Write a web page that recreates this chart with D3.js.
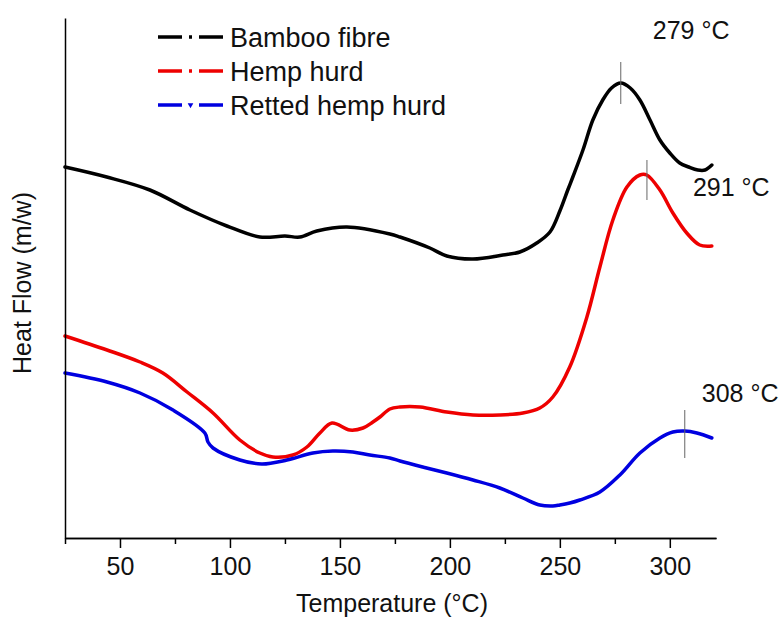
<!DOCTYPE html>
<html>
<head>
<meta charset="utf-8">
<script src="https://cdn.jsdelivr.net/npm/d3@7"></script>
<style>
  body { margin: 0; background: #fff; }
  svg { display: block; font-family: "Liberation Sans", Arial, sans-serif; }
</style>
</head>
<body>
<div id="root"></div>
<script>
// DSC curves, [temperature °C, heat flow (arbitrary units)]
const bambooFibre = [
  [25, 3.71], [44, 3.61], [63.6, 3.48], [81.8, 3.28], [98.6, 3.12], [113.6, 3.01],
  [125, 3.02], [131.8, 3.01], [139.5, 3.07], [153.2, 3.11], [172.7, 3.04], [177.3, 3.01],
  [190.9, 2.9], [198.6, 2.82], [210.5, 2.79], [224.1, 2.83], [231.8, 2.86], [239.5, 2.95],
  [245.5, 3.06], [250, 3.27], [253.6, 3.48], [255.9, 3.61], [260.5, 3.88], [265, 4.18],
  [269.5, 4.38], [273.5, 4.5], [277.7, 4.55], [282, 4.5], [286.4, 4.38], [291, 4.18],
  [295.5, 3.98], [300, 3.85], [304.5, 3.75], [308.6, 3.71], [312.7, 3.68], [316, 3.68],
  [319.1, 3.73]
];
const hempHurd = [
  [25, 2.02], [44.1, 1.88], [59.1, 1.76], [69.5, 1.65], [80.5, 1.46], [92.3, 1.25],
  [104.5, 0.98], [113.6, 0.85], [119.5, 0.81], [128.6, 0.83], [135, 0.91], [140.9, 1.05],
  [146.4, 1.15], [154.5, 1.08], [160.5, 1.1], [165, 1.16], [168.2, 1.21], [172.7, 1.29],
  [177.3, 1.31], [186.4, 1.31], [198.6, 1.26], [210.5, 1.23], [222.7, 1.23], [233.2, 1.25],
  [240.9, 1.3], [246.8, 1.41], [254.5, 1.71], [262.3, 2.21], [268.2, 2.71], [274.1, 3.18],
  [280.5, 3.51], [286.4, 3.63], [289.5, 3.63], [295.5, 3.48], [301.4, 3.25], [307.7, 3.05],
  [313.6, 2.93], [319.1, 2.92]
];
const rettedHempHurd = [
  [25, 1.65], [44.1, 1.56], [59.1, 1.45], [74.1, 1.28], [88.6, 1.05], [90, 0.96],
  [92.3, 0.9], [104.5, 0.78], [114.5, 0.74], [125.9, 0.78], [137.7, 0.85], [146.8, 0.87],
  [155.9, 0.86], [163.6, 0.83], [172.7, 0.8], [177.3, 0.77], [187.7, 0.71], [198.6, 0.65],
  [210.5, 0.58], [222.7, 0.5], [233.2, 0.4], [240.9, 0.33], [246.8, 0.32], [250, 0.33],
  [254.5, 0.35], [259.1, 0.38], [268.2, 0.46], [277.3, 0.63], [286.4, 0.85], [295.5, 1.0],
  [301.4, 1.06], [306.8, 1.07], [312.3, 1.05], [319.1, 1.0]
];

const seriesNames = ["Bamboo fibre", "Hemp hurd", "Retted hemp hurd"];
const seriesColors = ["#000000", "#ee0000", "#0000e0"];

// peak markers: temperature, marker bottom/top (heat flow units), label
const peakTemps = [277.7, 289.6, 306.8];
const peakRanges = [[4.34, 4.76], [3.38, 3.78], [0.8, 1.28]];
const peakLabels = ["279 °C", "291 °C", "308 °C"];

const majorTicks = [50, 100, 150, 200, 250, 300];
const minorTicks = [25, 75, 125, 175, 225, 275];

const width = 779;
const height = 617;
const margin = { top: 18, right: 63, bottom: 79, left: 65 };

const xScale = d3.scaleLinear().domain([25, 321]).range([margin.left, width - margin.right]);
const yScale = d3.scaleLinear().domain([0, 5.2]).range([height - margin.bottom, margin.top]);

const svg = d3.select("#root")
  .append("svg")
  .attr("width", width)
  .attr("height", height)
  .attr("viewBox", `0 0 ${width} ${height}`);

const line = d3.line()
  .x((d) => xScale(d[0]))
  .y((d) => yScale(d[1]))
  .curve(d3.curveCatmullRom.alpha(0.5));

[bambooFibre, hempHurd, rettedHempHurd].forEach((data, i) => {
  svg.append("path")
    .datum(data)
    .attr("d", line)
    .attr("fill", "none")
    .attr("stroke", seriesColors[i])
    .attr("stroke-width", 3.5)
    .attr("stroke-linejoin", "round")
    .attr("stroke-linecap", "round");
});

// peak markers + labels
const labelOffsets = [[32, -4], [46, 36], [17, -8]];
peakTemps.forEach((t, i) => {
  svg.append("line")
    .attr("x1", xScale(t)).attr("x2", xScale(t))
    .attr("y1", yScale(peakRanges[i][0])).attr("y2", yScale(peakRanges[i][1]))
    .attr("stroke", "#666")
    .attr("stroke-width", 1);
  svg.append("text")
    .attr("x", xScale(t) + labelOffsets[i][0])
    .attr("y", yScale(peakRanges[i][1]) + labelOffsets[i][1] - (i === 0 ? 19 : 0))
    .style("font-size", "25px")
    .attr("fill", "#111")
    .text(peakLabels[i]);
});

// axes
const xMajor = d3.axisBottom(xScale).tickValues(majorTicks).tickSize(10).tickSizeOuter(0).tickPadding(9);
const xMinor = d3.axisBottom(xScale).tickValues(minorTicks).tickSize(6).tickSizeOuter(0).tickFormat("");

const gx = svg.append("g")
  .attr("transform", `translate(0, ${height - margin.bottom})`)
  .call(xMajor);
svg.append("g")
  .attr("transform", `translate(0, ${height - margin.bottom})`)
  .call(xMinor);
gx.selectAll("text").style("font-size", "25px").attr("fill", "#111");

const yAxis = d3.axisLeft(yScale).tickValues([]).tickSizeOuter(0);
svg.append("g")
  .attr("transform", `translate(${margin.left}, 0)`)
  .call(yAxis);

svg.selectAll(".domain").attr("stroke-width", 1.5);
svg.selectAll(".tick line").attr("stroke-width", 1.5);

svg.append("text")
  .attr("x", 392)
  .attr("y", 612)
  .attr("text-anchor", "middle")
  .style("font-size", "25px")
  .attr("fill", "#111")
  .text("Temperature (°C)");

svg.append("text")
  .attr("transform", "translate(31, 283) rotate(-90)")
  .attr("text-anchor", "middle")
  .style("font-size", "25px")
  .attr("fill", "#111")
  .text("Heat Flow (m/w)");

// legend
const legend = svg.append("g").attr("transform", "translate(158, 37)");
seriesNames.forEach((name, i) => {
  const row = legend.append("g").attr("transform", `translate(0, ${i * 34})`);
  row.append("line")
    .attr("x1", 0).attr("x2", 65)
    .attr("stroke", seriesColors[i])
    .attr("stroke-width", 3.5)
    .attr("stroke-dasharray", i === 2 ? "24 17 24" : "24 7 3 7 24");
  if (i === 2) {
    row.append("path")
      .attr("d", d3.symbol(d3.symbolTriangle, 14))
      .attr("transform", "translate(32.5, 0) rotate(180)")
      .attr("fill", seriesColors[i]);
  }
  row.append("text")
    .attr("x", 72)
    .attr("dy", "0.36em")
    .style("font-size", "27px")
    .attr("fill", "#111")
    .text(name);
});
</script>
</body>
</html>
